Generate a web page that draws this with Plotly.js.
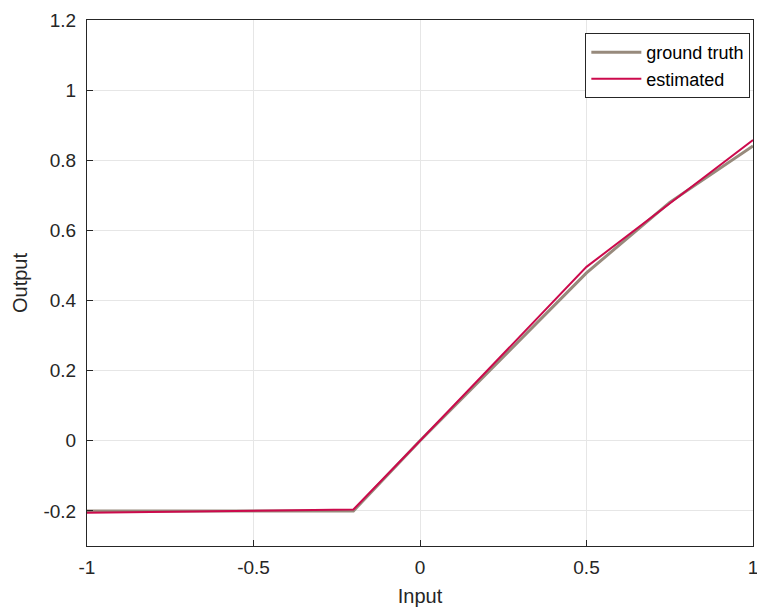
<!DOCTYPE html>
<html><head><meta charset="utf-8">
<script src="https://cdn.plot.ly/plotly-3.0.1.min.js"></script>
<style>body{margin:0;padding:0;background:#fff}#chart{width:757px;height:609px}</style>
</head><body><div id="chart"></div>
<script>
const gtX = [-1, -0.2, 0, 0.5, 0.75, 1];
const gtY = [-0.2, -0.2, 0, 0.479, 0.68, 0.841];
const estX = [-1, -0.2, 0, 0.5, 1];
const estY = [-0.205, -0.196, 0, 0.496, 0.858];
const xTickVals = [-1, -0.5, 0, 0.5, 1];
const xTickText = ['-1', '-0.5', '0', '0.5', '1'];
const yTickVals = [-0.2, 0, 0.2, 0.4, 0.6, 0.8, 1, 1.2];
const yTickText = ['-0.2', '0', '0.2', '0.4', '0.6', '0.8', '1', '1.2'];

const font = "Liberation Sans, Arial, sans-serif";
const traces = [
  {x: gtX, y: gtY, mode: 'lines', name: 'ground truth', line: {color: '#978a7c', width: 3}},
  {x: estX, y: estY, mode: 'lines', name: 'estimated', line: {color: '#cc0a4c', width: 2}}
];
const axisCommon = {
  showline: true, mirror: true, linecolor: '#262626', linewidth: 1,
  showgrid: true, gridcolor: '#e6e6e6', gridwidth: 1,
  zeroline: false, ticks: 'inside', ticklen: 6, tickcolor: '#262626',
  ticklabeloverflow: 'allow', automargin: false,
  tickfont: {family: font, size: 19, color: '#262626'}
};
const layout = {
  width: 757, height: 609,
  margin: {l: 87, r: 4, t: 20, b: 63},
  paper_bgcolor: '#fff', plot_bgcolor: '#fff',
  font: {family: font, color: '#262626'},
  showlegend: true,
  legend: {x: 0.996, y: 0.975, xanchor: 'right', yanchor: 'top',
    bordercolor: '#262626', borderwidth: 1, bgcolor: '#fff', itemwidth: 50,
    font: {family: font, size: 18, color: '#000'}, tracegroupgap: 0},
  xaxis: Object.assign({}, axisCommon, {range: [-1, 1], tickvals: xTickVals, ticktext: xTickText,
    ticklabelstandoff: 4,
    title: {text: 'Input', font: {family: font, size: 20, color: '#262626'}, standoff: 12}}),
  yaxis: Object.assign({}, axisCommon, {range: [-0.3, 1.2], tickvals: yTickVals, ticktext: yTickText,
    ticklabelstandoff: 6,
    title: {text: 'Output', font: {family: font, size: 20, color: '#262626'}, standoff: 10}})
};
Plotly.newPlot('chart', traces, layout, {displayModeBar: false, staticPlot: true});
</script></body></html>
